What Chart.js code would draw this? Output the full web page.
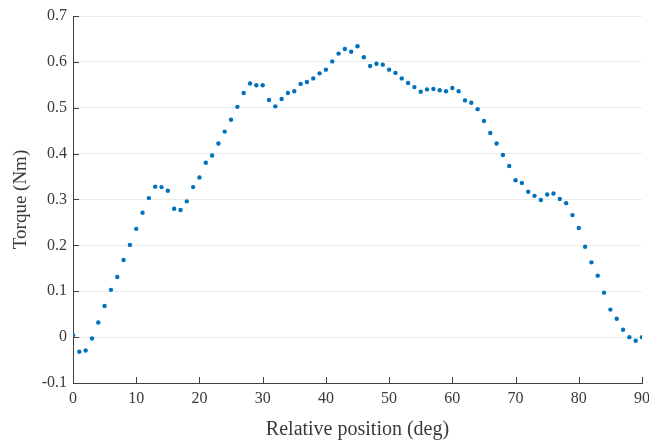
<!DOCTYPE html>
<html>
<head>
<meta charset="utf-8">
<script src="https://cdn.jsdelivr.net/npm/chart.js@4.4.1/dist/chart.umd.min.js"></script>
<style>
	html, body { margin: 0; padding: 0; background: #fff; }
	#torqueChart { display: block; }
</style>
</head>
<body>
<canvas id="torqueChart" width="649" height="443"></canvas>
<script>
// measured torque vs relative rotor position
var positionDeg = [
	0, 1, 2, 3, 4, 5, 6, 7, 8, 9,
	10, 11, 12, 13, 14, 15, 16, 17, 18, 19,
	20, 21, 22, 23, 24, 25, 26, 27, 28, 29,
	30, 31, 32, 33, 34, 35, 36, 37, 38, 39,
	40, 41, 42, 43, 44, 45, 46, 47, 48, 49,
	50, 51, 52, 53, 54, 55, 56, 57, 58, 59,
	60, 61, 62, 63, 64, 65, 66, 67, 68, 69,
	70, 71, 72, 73, 74, 75, 76, 77, 78, 79,
	80, 81, 82, 83, 84, 85, 86, 87, 88, 89,
	90
];
var torqueNm = [
	0.004, -0.032, -0.029, -0.003, 0.032, 0.068, 0.103, 0.131, 0.168, 0.201,
	0.236, 0.271, 0.303, 0.328, 0.327, 0.319, 0.280, 0.277, 0.296, 0.327,
	0.348, 0.380, 0.396, 0.422, 0.448, 0.474, 0.502, 0.532, 0.553, 0.549,
	0.549, 0.517, 0.503, 0.519, 0.532, 0.536, 0.552, 0.556, 0.564, 0.575,
	0.583, 0.601, 0.618, 0.628, 0.622, 0.634, 0.610, 0.591, 0.596, 0.594,
	0.583, 0.576, 0.564, 0.554, 0.545, 0.535, 0.540, 0.541, 0.538, 0.536,
	0.543, 0.536, 0.516, 0.511, 0.497, 0.471, 0.445, 0.422, 0.397, 0.373,
	0.342, 0.336, 0.317, 0.308, 0.299, 0.311, 0.313, 0.301, 0.292, 0.266,
	0.238, 0.197, 0.163, 0.134, 0.097, 0.060, 0.040, 0.016, 0.000, -0.008,
	0.000
];
var xTickValues = [0, 10, 20, 30, 40, 50, 60, 70, 80, 90];
var yTickValues = [-0.1, 0, 0.1, 0.2, 0.3, 0.4, 0.5, 0.6, 0.7];

var axisColor = "#404040";
var textColor = "#3a3a3a";
var gridColor = "#ebebeb";
var fontFamily = "'Liberation Serif', 'DejaVu Serif', serif";

var points = positionDeg.map(function(x, i){
	return {x: x, y: torqueNm[i]};
});

// short tick marks drawn inward from the axis lines
var innerTicks = {
	id: "innerTicks",
	afterDatasetsDraw: function(chart){
		var ctx = chart.ctx;
		var area = chart.chartArea;
		var xs = chart.scales.x;
		var ys = chart.scales.y;
		var len = 6;
		ctx.save();
		ctx.strokeStyle = axisColor;
		ctx.lineWidth = 1;
		ctx.beginPath();
		xTickValues.forEach(function(v){
			var px = Math.round(xs.getPixelForValue(v)) + 0.5;
			ctx.moveTo(px, area.bottom);
			ctx.lineTo(px, area.bottom - len);
		});
		yTickValues.forEach(function(v){
			var py = Math.round(ys.getPixelForValue(v)) + 0.5;
			ctx.moveTo(area.left, py);
			ctx.lineTo(area.left + len, py);
		});
		ctx.stroke();
		ctx.restore();
	}
};

new Chart(document.getElementById("torqueChart"), {
	type: "scatter",
	data: {
		datasets: [{
			data: points,
			pointRadius: 2.2,
			pointHoverRadius: 2.2,
			pointBorderWidth: 0,
			pointBackgroundColor: "#0072BD",
			pointBorderColor: "#0072BD"
		}]
	},
	options: {
		responsive: false,
		animation: false,
		layout: {padding: {top: 16, right: 7, left: 0, bottom: 0}},
		plugins: {
			legend: {display: false},
			tooltip: {enabled: false}
		},
		scales: {
			x: {
				type: "linear",
				min: 0,
				max: 90,
				afterBuildTicks: function(scale){
					scale.ticks = xTickValues.map(function(v){ return {value: v}; });
				},
				afterFit: function(scale){
					scale.height = 60;
					scale.paddingLeft = 0;
					scale.paddingRight = 0;
				},
				grid: {display: false, drawTicks: false},
				border: {display: true, color: axisColor, width: 1},
				ticks: {
					padding: 6,
					maxRotation: 0,
					autoSkip: false,
					color: textColor,
					font: {family: fontFamily, size: 16}
				},
				title: {
					display: true,
					text: "Relative position (deg)",
					color: textColor,
					font: {family: fontFamily, size: 20},
					padding: {top: 0, bottom: 1}
				}
			},
			y: {
				type: "linear",
				min: -0.1,
				max: 0.7,
				afterBuildTicks: function(scale){
					scale.ticks = yTickValues.map(function(v){ return {value: v}; });
				},
				afterFit: function(scale){
					scale.width = 73;
					scale.paddingTop = 0;
					scale.paddingBottom = 0;
				},
				grid: {display: true, color: gridColor, lineWidth: 1, drawTicks: false},
				border: {display: true, color: axisColor, width: 1},
				ticks: {
					padding: 6,
					autoSkip: false,
					color: textColor,
					font: {family: fontFamily, size: 16},
					callback: function(v){ return String(parseFloat(Number(v).toFixed(1))); }
				},
				title: {
					display: true,
					text: "Torque (Nm)",
					color: textColor,
					font: {family: fontFamily, size: 19},
					padding: {top: 10, bottom: 0}
				}
			}
		}
	},
	plugins: [innerTicks]
});
</script>
</body>
</html>
